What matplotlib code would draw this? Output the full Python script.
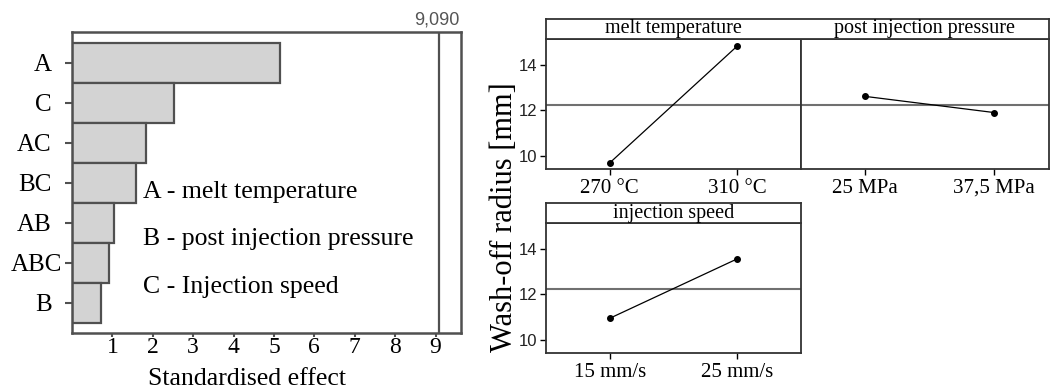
import matplotlib
matplotlib.use("Agg")
import matplotlib.pyplot as plt
import matplotlib.transforms as mtransforms

# ---- data: Pareto chart of standardised effects ----
effect_terms = ["A", "C", "AC", "BC", "AB", "ABC", "B"]
effect_values = [5.14, 2.53, 1.84, 1.58, 1.03, 0.92, 0.72]
critical_value = 9.09
critical_label = "9,090"
effect_ticks = [1, 2, 3, 4, 5, 6, 7, 8, 9]
legend_lines = ["A - melt temperature", "B - post injection pressure", "C - Injection speed"]

# ---- data: main effects plot ----
panel_titles = ["melt temperature", "post injection pressure", "injection speed"]
panel_levels = [["270 °C", "310 °C"], ["25 MPa", "37,5 MPa"], ["15 mm/s", "25 mm/s"]]
panel_means = [[9.69, 14.84], [12.62, 11.91], [10.95, 13.57]]
grand_mean = 12.25
radius_ticks = [10, 12, 14]

SERIF = ["Liberation Serif", "DejaVu Serif"]
SANS = ["Liberation Sans", "DejaVu Sans"]

W, H = 1051, 391
fig = plt.figure(figsize=(W / 100, H / 100), dpi=100)

def rect(x0, y0, x1, y1):
    return [x0 / W, 1 - y1 / H, (x1 - x0) / W, (y1 - y0) / H]

# ---------------- left: Pareto chart ----------------
ax = fig.add_axes(rect(72, 32, 461, 333))
pos = list(range(len(effect_terms)))
ax.barh(pos, effect_values, height=1.0, color="#d3d3d3", edgecolor="#505050", linewidth=1.6)
ax.set_ylim(len(effect_terms) - 1 + 0.75, -0.77)
ax.set_xlim(0, 9.63)
ax.axvline(critical_value, color="#505050", linewidth=1.6)
ax.set_yticks(pos)
ax.set_yticklabels(effect_terms, fontfamily=SERIF, fontsize=18)
ax.set_xticks(effect_ticks)
ax.set_xticklabels([str(t) for t in effect_ticks], fontfamily=SERIF, fontsize=17)
ax.tick_params(axis="y", length=5, width=1.5, color="#505050", pad=9.5)
ax.tick_params(axis="x", length=3, width=1.5, color="#505050", pad=0)
for s in ax.spines.values():
    s.set_color("#505050")
    s.set_linewidth(1.8)
for lab in ax.get_yticklabels():
    if lab.get_text() == "ABC":
        lab.set_transform(lab.get_transform() + mtransforms.ScaledTranslation(10 / 100, 0, fig.dpi_scale_trans))
ax.text(critical_value - 0.05, 1.012, critical_label, transform=ax.get_xaxis_transform(),
        ha="center", va="bottom", fontsize=13, color="#555555", fontfamily=SANS)
for txt, yy in zip(legend_lines, [0.468, 0.312, 0.153]):
    ax.text(0.1825, yy, txt, transform=ax.transAxes, ha="left", va="center",
            fontfamily=SERIF, fontsize=18.5)
fig.text(247 / W, 1 - 379 / H, "Standardised effect", ha="center", va="center",
         fontfamily=SERIF, fontsize=18.5)

# ---------------- right: main effects ----------------
ylim = (9.42, 15.15)
panels = [
    (546, 801, 39, 169, (-0.5, 1.5)),
    (801, 1049, 39, 169, (-0.5, 1.43)),
    (546, 801, 223, 353, (-0.5, 1.5)),
]
for i, (x0, x1, y0, y1, xl) in enumerate(panels):
    a = fig.add_axes(rect(x0, y0, x1, y1))
    a.axhline(grand_mean, color="#707070", linewidth=1.5, zorder=1)
    a.plot([0, 1], panel_means[i], color="black", linewidth=0.9, marker="o",
           markersize=4, zorder=3)
    a.set_xlim(*xl)
    a.set_ylim(*ylim)
    a.set_xticks([0, 1])
    a.set_xticklabels(panel_levels[i], fontfamily=SERIF, fontsize=15)
    a.tick_params(axis="x", length=4, width=1, pad=3)
    if i == 1:
        a.set_yticks([])
    else:
        a.set_yticks(radius_ticks)
        a.set_yticklabels([str(t) for t in radius_ticks], fontfamily=SANS, fontsize=12, color="#222222")
        a.tick_params(axis="y", length=4, width=1, pad=2)
    for s in a.spines.values():
        s.set_color("#333333")
        s.set_linewidth(1.3)

# header strips
def strip(x0, x1, y0, y1, items):
    s = fig.add_axes(rect(x0, y0, x1, y1))
    s.set_xticks([]); s.set_yticks([])
    s.set_xlim(x0, x1); s.set_ylim(0, 1)
    for sp in s.spines.values():
        sp.set_color("#333333"); sp.set_linewidth(1.3)
    for cx, txt in items:
        s.text(cx, 0.5, txt, ha="center", va="center", fontfamily=SERIF, fontsize=14.5)

strip(546, 1049, 19, 39, [(673.5, panel_titles[0]), (925, panel_titles[1])])
strip(546, 801, 203, 223, [(673.5, panel_titles[2])])

fig.text(505 / W, 1 - 217 / H, "Wash-off radius [mm]", rotation=90, ha="center", va="center",
         fontfamily=SERIF, fontsize=22)

fig.savefig("out.png", dpi=100)
